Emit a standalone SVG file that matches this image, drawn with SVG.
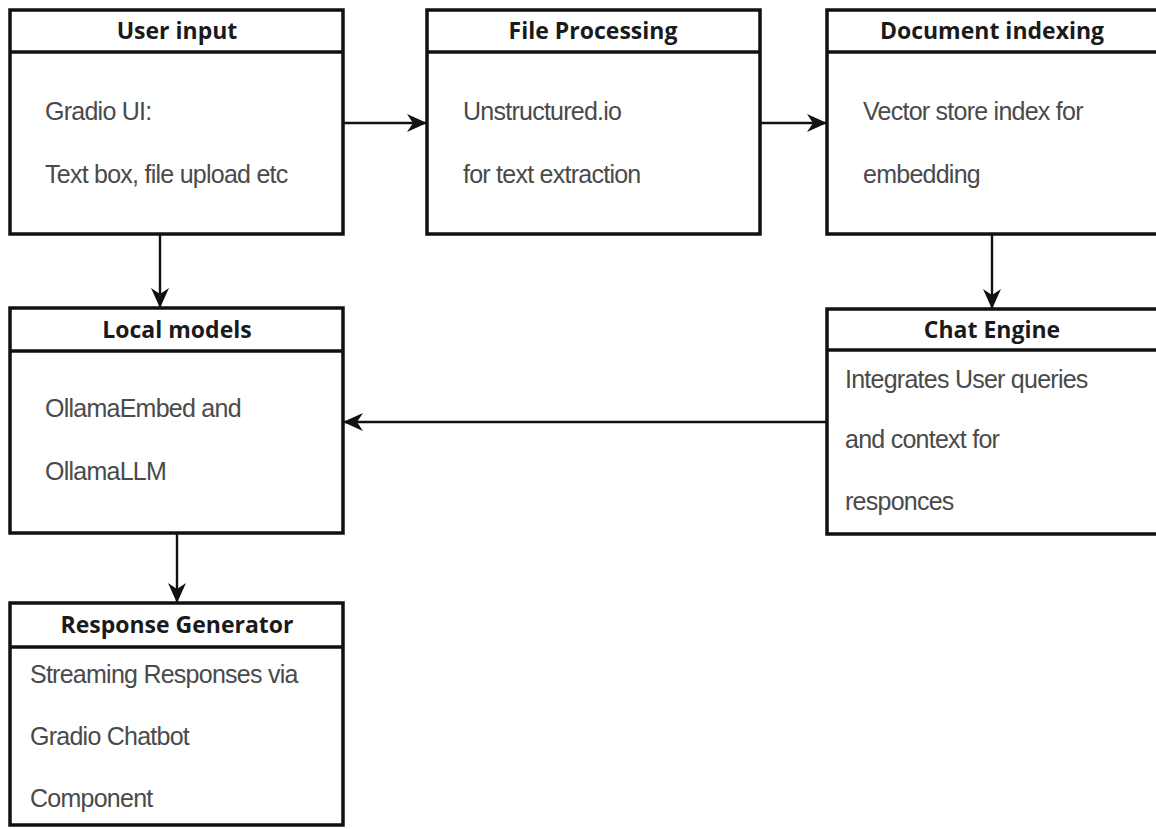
<svg xmlns="http://www.w3.org/2000/svg" width="1156" height="829" viewBox="0 0 1156 829">
<style>
.box{fill:#fff;stroke:#111;stroke-width:3.5}
.div{stroke:#111;stroke-width:3.5}
.hd{font-family:"Open Sans","DejaVu Sans",sans-serif;font-weight:bold;font-size:23px;fill:#1a1a1a;text-anchor:middle}
.bd{font-family:"Liberation Sans",Arial,sans-serif;font-size:25px;fill:#4a4a4a;letter-spacing:-0.75px}
.con{stroke:#111;stroke-width:2.4;fill:none;marker-end:url(#arr)}
</style>
<defs>
<marker id="arr" viewBox="0 0 20 18" refX="19" refY="9" markerWidth="20" markerHeight="18" markerUnits="userSpaceOnUse" orient="auto">
<path d="M0,0 L20,9 L0,18 L6,9 z" fill="#111"/>
</marker>
</defs>
<rect width="1156" height="829" fill="#fff"/>
<g id="connectors">
<line class="con" x1="343" y1="123" x2="426" y2="123"/>
<line class="con" x1="760" y1="123" x2="826" y2="123"/>
<line class="con" x1="160" y1="234" x2="160" y2="307"/>
<line class="con" x1="992" y1="234" x2="992" y2="308"/>
<line class="con" x1="827" y1="422" x2="344" y2="422"/>
<line class="con" x1="177" y1="533" x2="177" y2="602"/>
</g>
<g id="user-input">
<rect class="box" x="10" y="10" width="333" height="224"/>
<line class="div" x1="10" y1="52" x2="343" y2="52"/>
<text class="hd" x="177" y="39">User input</text>
<text class="bd" x="45" y="120">Gradio UI:</text>
<text class="bd" x="45" y="183">Text box, file upload etc</text>
</g>
<g id="file-processing">
<rect class="box" x="427" y="10" width="333" height="224"/>
<line class="div" x1="427" y1="52" x2="760" y2="52"/>
<text class="hd" x="593" y="39">File Processing</text>
<text class="bd" x="463" y="120">Unstructured.io</text>
<text class="bd" x="463" y="183">for text extraction</text>
</g>
<g id="document-indexing">
<rect class="box" x="827" y="10" width="331" height="224"/>
<line class="div" x1="827" y1="52" x2="1158" y2="52"/>
<text class="hd" x="992" y="39">Document indexing</text>
<text class="bd" x="863" y="120">Vector store index for</text>
<text class="bd" x="863" y="183">embedding</text>
</g>
<g id="local-models">
<rect class="box" x="10" y="308" width="333" height="225"/>
<line class="div" x1="10" y1="351" x2="343" y2="351"/>
<text class="hd" x="177" y="338">Local models</text>
<text class="bd" x="45" y="417">OllamaEmbed and</text>
<text class="bd" x="45" y="480">OllamaLLM</text>
</g>
<g id="chat-engine">
<rect class="box" x="827" y="309" width="331" height="225"/>
<line class="div" x1="827" y1="350" x2="1158" y2="350"/>
<text class="hd" x="992" y="338">Chat Engine</text>
<text class="bd" x="845" y="388">Integrates User queries</text>
<text class="bd" x="845" y="448">and context for</text>
<text class="bd" x="845" y="510">responces</text>
</g>
<g id="response-generator">
<rect class="box" x="10" y="603" width="333" height="222"/>
<line class="div" x1="10" y1="647" x2="343" y2="647"/>
<text class="hd" x="177" y="633">Response Generator</text>
<text class="bd" x="30" y="683">Streaming Responses via</text>
<text class="bd" x="30" y="745">Gradio Chatbot</text>
<text class="bd" x="30" y="807">Component</text>
</g>
</svg>
